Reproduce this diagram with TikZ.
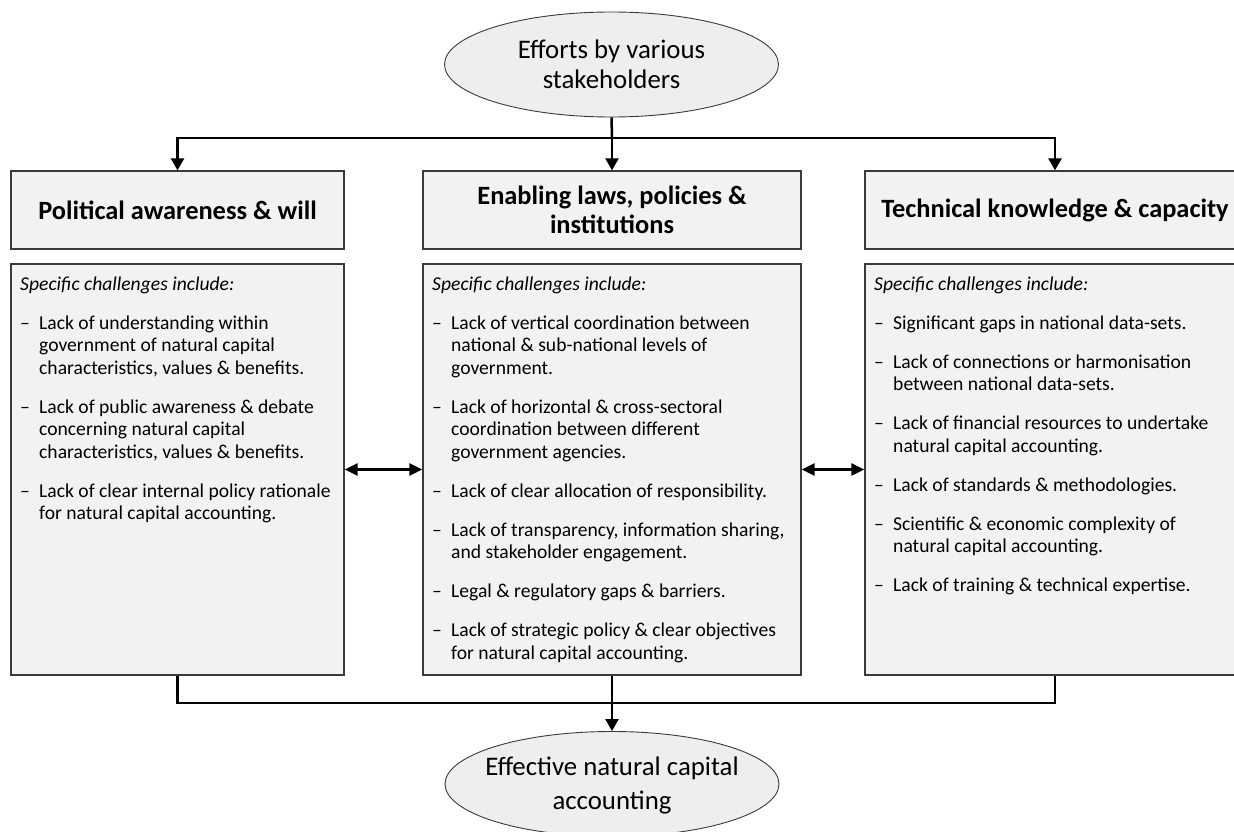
\documentclass[tikz,border=0pt]{standalone}
\usepackage{fontspec}
\setmainfont{Carlito}
\usetikzlibrary{arrows.meta,shapes.geometric}
\definecolor{boxfill}{HTML}{F2F2F2}
\definecolor{boxline}{HTML}{3A3A3A}
\definecolor{ellfill}{HTML}{EEEEEE}
\newcommand{\itm}[1]{\par\vspace{16.5pt}\noindent\hangindent=19pt\hangafter=1\makebox[19pt][l]{--}#1}
\newcommand{\bodyfont}{\fontsize{19.6}{22.5}\selectfont}
\tikzset{
  oval/.style={ellipse, draw=boxline, line width=0.9pt, fill=ellfill, minimum width=334pt, minimum height=105pt, inner sep=0pt},
  ovaltext/.style={inner sep=0pt, align=center, font=\fontsize{26.8}{#1}\selectfont},
  headbox/.style={rectangle, draw=boxline, line width=1.3pt, fill=boxfill, minimum height=78pt, inner sep=0pt, align=center, font=\fontsize{26.4}{29}\selectfont\bfseries},
  bodybox/.style={rectangle, draw=boxline, line width=1.3pt, fill=boxfill, minimum height=411pt, inner sep=0pt},
  bodytext/.style={anchor=base west, inner sep=0pt},
  conn/.style={draw=black, line width=2.5pt},
  arr/.style={-{Triangle[length=12pt,width=13pt]}},
  dbl/.style={{Triangle[length=13pt,width=12pt]}-{Triangle[length=13pt,width=12pt]}}
}
\begin{document}
\begin{tikzpicture}[x=1pt,y=-1pt]
\useasboundingbox (0,0) rectangle (1234,832);
\clip (0,0) rectangle (1234,832);

% ellipses
\node[oval] (top) at (611.5,64.5) {};
\node[ovaltext=30] (toplbl) at (top.center) {Efforts by various\\stakeholders};
\node[oval] (bot) at (612,784) {};
\node[ovaltext=34] (botlbl) at (612,785.5) {Effective natural capital\\accounting};

% header boxes
\node[headbox, minimum width=333pt] (h1) at (177.5,210) {Political awareness \& will};
\node[headbox, minimum width=378pt] (h2) at (612,210) {Enabling laws, policies \&\\institutions};
\node[headbox, minimum width=380pt] (h3) at (1055,210) {Technical knowledge \& capacity};

% body boxes
\node[bodybox, minimum width=333pt] (b1) at (177.5,469.5) {};
\node[bodybox, minimum width=378pt] (b2) at (612,469.5) {};
\node[bodybox, minimum width=380pt] (b3) at (1055,469.5) {};

\node[bodytext] (t1) at (20,290) {\begin{minipage}[t]{400pt}\bodyfont
\textit{Specific challenges include:}
\itm{Lack of understanding within\\government of natural capital\\characteristics, values \& benefits.}
\itm{Lack of public awareness \& debate\\concerning natural capital\\characteristics, values \& benefits.}
\itm{Lack of clear internal policy rationale\\for natural capital accounting.}
\end{minipage}};

\node[bodytext] (t2) at (432,290) {\begin{minipage}[t]{400pt}\bodyfont
\textit{Specific challenges include:}
\itm{Lack of vertical coordination between\\national \& sub-national levels of\\government.}
\itm{Lack of horizontal \& cross-sectoral\\coordination between different\\government agencies.}
\itm{Lack of clear allocation of responsibility.}
\itm{Lack of transparency, information sharing,\\and stakeholder engagement.}
\itm{Legal \& regulatory gaps \& barriers.}
\itm{Lack of strategic policy \& clear objectives\\for natural capital accounting.}
\end{minipage}};

\node[bodytext] (t3) at (874,290) {\begin{minipage}[t]{400pt}\bodyfont
\textit{Specific challenges include:}
\itm{Significant gaps in national data-sets.}
\itm{Lack of connections or harmonisation\\between national data-sets.}
\itm{Lack of financial resources to undertake\\natural capital accounting.}
\itm{Lack of standards \& methodologies.}
\itm{Scientific \& economic complexity of\\natural capital accounting.}
\itm{Lack of training \& technical expertise.}
\end{minipage}};

% top connectors
\coordinate (j1) at (612,138);
\draw[conn] (top.south) -- (j1);
\draw[conn,arr] (j1) -| (h1.north);
\draw[conn,arr] (j1) -- (h2.north);
\draw[conn,arr] (j1) -| (h3.north);

% side double arrows
\draw[conn,dbl] (b1.east) -- (b2.west);
\draw[conn,dbl] (b2.east) -- (b3.west);

% bottom connectors
\coordinate (j2) at (612,703);
\draw[conn] (b1.south) |- (j2);
\draw[conn] (b3.south) |- (j2);
\draw[conn,arr] (b2.south) -- (bot.north);
\end{tikzpicture}
\end{document}
